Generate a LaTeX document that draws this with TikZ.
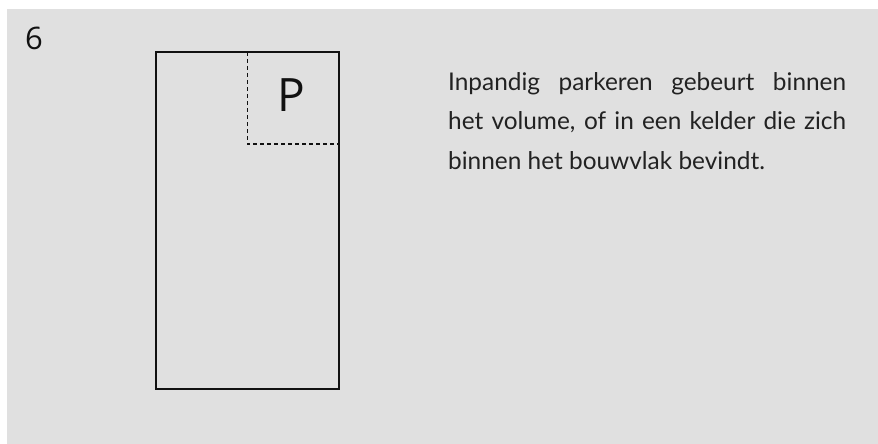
\documentclass[tikz,border=0pt]{standalone}
\usepackage{fontspec}
\setmainfont{Lato}
\newfontfamily\numfont{Open Sans}
\definecolor{bggray}{HTML}{E0E0E0}
\definecolor{ink}{HTML}{111111}
\definecolor{txt}{HTML}{222222}
\tikzset{
  outline/.style={draw=ink, line width=2pt},
  dashline/.style={draw=ink, line width=1.6pt, dash pattern=on 4pt off 3pt},
  bodytext/.style={anchor=base west, inner sep=0pt, text=txt, font=\fontsize{24.4}{28}\selectfont},
  bigtext/.style={anchor=base west, inner sep=0pt, text=ink},
}
\begin{document}
\begin{tikzpicture}[x=1pt,y=-1pt]
\useasboundingbox (0,0) rectangle (878,444);
\fill[white] (0,0) rectangle (878,444);
\fill[bggray] (7,9) rectangle (877.5,444);
\node[bigtext, font=\numfont\fontsize{31}{31}\selectfont] (num) at (25,49) {6};
\draw[outline] (155.5,52) rectangle (338.7,389);
\coordinate (dtop) at (247.3,52);
\coordinate (dcorner) at (247.3,144);
\coordinate (dright) at (338.7,144);
\draw[dashline] (dtop) -- (dcorner) -- (dright);
\node[bigtext, font=\numfont\fontsize{46}{46}\selectfont] (p) at (277,111) {P};
\node[bodytext] (l1) at (448,90) {\makebox[398pt][s]{Inpandig parkeren gebeurt binnen}};
\node[bodytext] (l2) at (448,129) {\makebox[398pt][s]{het volume, of in een kelder die zich}};
\node[bodytext] (l3) at (448,169) {binnen het bouwvlak bevindt.};
\end{tikzpicture}
\end{document}
